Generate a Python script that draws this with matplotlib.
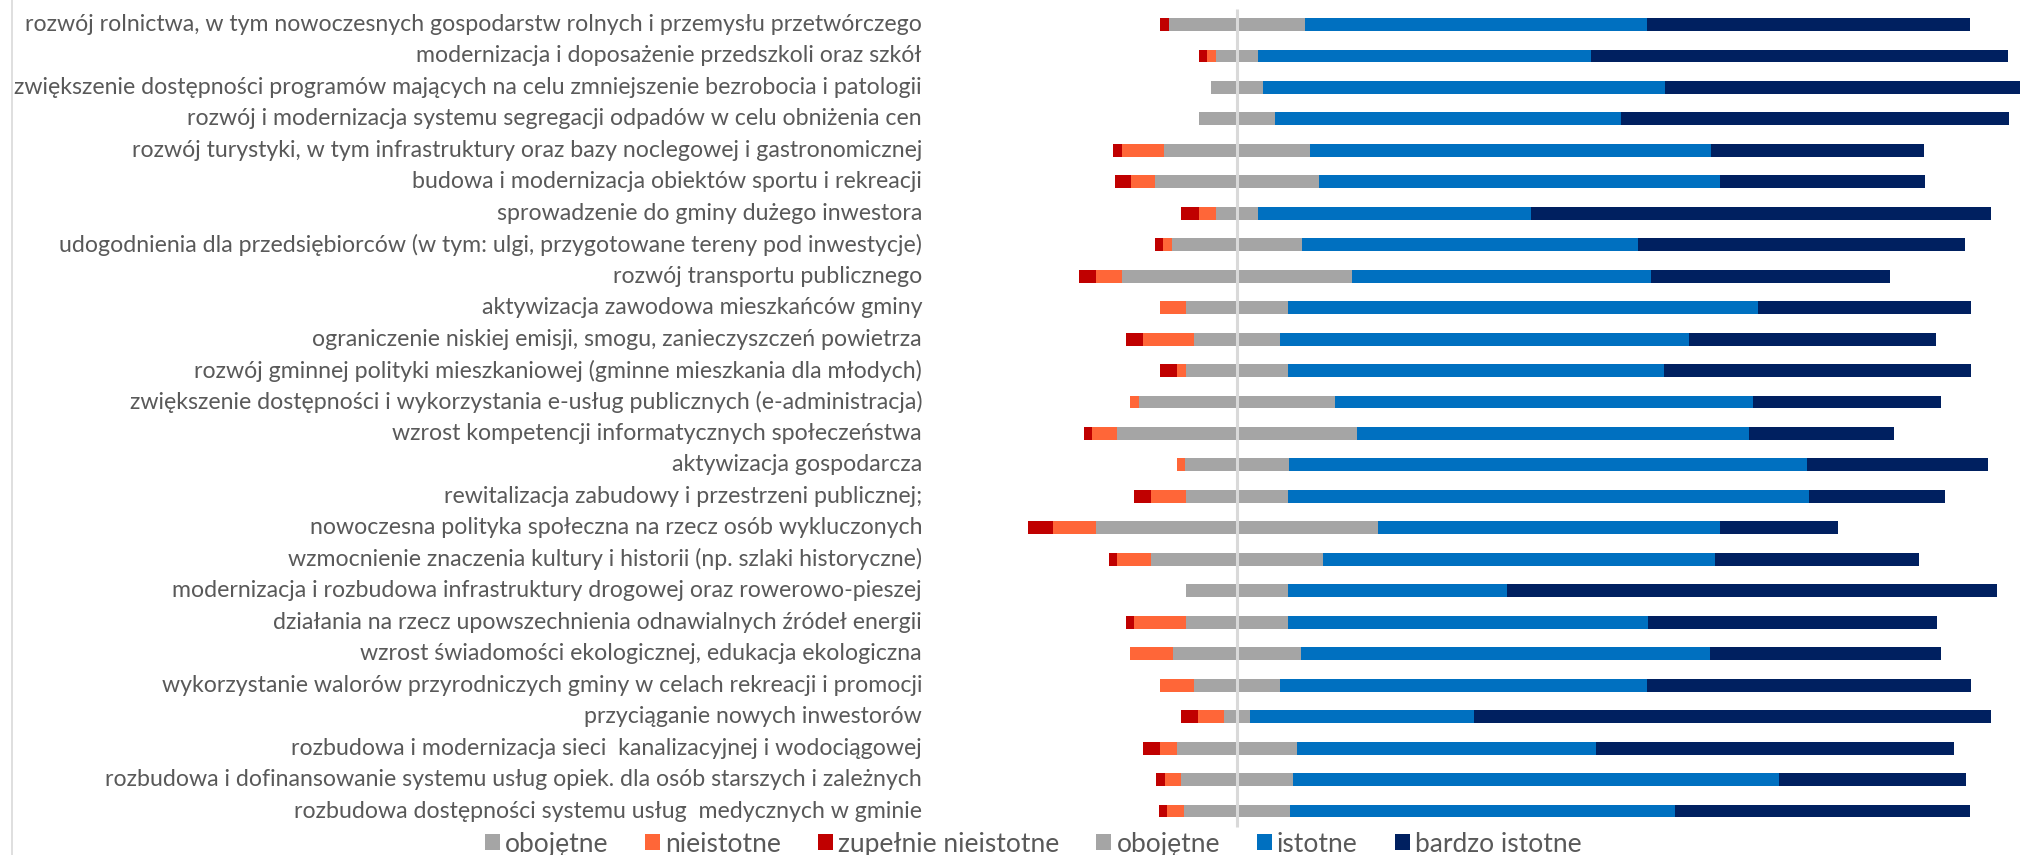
import matplotlib
matplotlib.use("Agg")
import matplotlib.pyplot as plt
from matplotlib.patches import Patch
from matplotlib.lines import Line2D
import numpy as np

categories = [
    "rozwój rolnictwa, w tym nowoczesnych gospodarstw rolnych i przemysłu przetwórczego",
    "modernizacja i doposażenie przedszkoli oraz szkół",
    "zwiększenie dostępności programów mających na celu zmniejszenie bezrobocia i patologii",
    "rozwój i modernizacja systemu segregacji odpadów w celu obniżenia cen",
    "rozwój turystyki, w tym infrastruktury oraz bazy noclegowej i gastronomicznej",
    "budowa i modernizacja obiektów sportu i rekreacji",
    "sprowadzenie do gminy dużego inwestora",
    "udogodnienia dla przedsiębiorców (w tym: ulgi, przygotowane tereny pod inwestycje)",
    "rozwój transportu publicznego",
    "aktywizacja zawodowa mieszkańców gminy",
    "ograniczenie niskiej emisji, smogu, zanieczyszczeń powietrza",
    "rozwój gminnej polityki mieszkaniowej (gminne mieszkania dla młodych)",
    "zwiększenie dostępności i wykorzystania e-usług publicznych (e-administracja)",
    "wzrost kompetencji informatycznych społeczeństwa",
    "aktywizacja gospodarcza",
    "rewitalizacja zabudowy i przestrzeni publicznej;",
    "nowoczesna polityka społeczna na rzecz osób wykluczonych",
    "wzmocnienie znaczenia kultury i historii (np. szlaki historyczne)",
    "modernizacja i rozbudowa infrastruktury drogowej oraz rowerowo-pieszej",
    "działania na rzecz upowszechnienia odnawialnych źródeł energii",
    "wzrost świadomości ekologicznej, edukacja ekologiczna",
    "wykorzystanie walorów przyrodniczych gminy w celach rekreacji i promocji",
    "przyciąganie nowych inwestorów",
    "rozbudowa i modernizacja sieci  kanalizacyjnej i wodociągowej",
    "rozbudowa i dofinansowanie systemu usług opiek. dla osób starszych i zależnych",
    "rozbudowa dostępności systemu usług  medycznych w gminie",
]

zupelnie_nieistotne = [1.1, 1.0, 0.0, 0.0, 1.1, 2.0, 2.1, 1.0, 2.1, 0.0, 2.1, 2.1, 0.0,
                       1.0, 0.0, 2.1, 3.1, 1.1, 0.0, 1.0, 0.0, 0.0, 2.1, 2.1, 1.1, 1.0]
nieistotne = [0.0, 1.1, 0.0, 0.0, 5.2, 3.0, 2.1, 1.1, 3.2, 3.1, 6.3, 1.0, 1.1,
              3.1, 1.0, 4.2, 5.3, 4.2, 0.0, 6.3, 5.3, 4.2, 3.2, 2.1, 2.0, 2.0]
obojetne = [16.9, 5.3, 6.5, 9.4, 17.9, 20.2, 5.3, 16.0, 28.4, 12.7, 10.6, 12.7, 24.2,
            29.5, 12.8, 12.7, 34.8, 21.1, 12.5, 12.7, 15.8, 10.6, 3.2, 14.8, 13.8, 13.2]
istotne = [42.1, 41.0, 49.5, 42.7, 49.5, 49.5, 33.6, 41.5, 36.9, 57.9, 50.5, 46.3, 51.6,
           48.4, 63.9, 64.2, 42.2, 48.4, 27.1, 44.3, 50.5, 45.3, 27.7, 36.9, 60.0, 47.5]
bardzo_istotne = [39.9, 51.5, 44.0, 47.9, 26.3, 25.3, 56.8, 40.3, 29.5, 26.3, 30.5, 37.9, 23.1,
                  17.9, 22.3, 16.8, 14.6, 25.2, 60.4, 35.7, 28.4, 39.9, 63.7, 44.2, 23.1, 36.3]

legend_labels = ["obojętne", "nieistotne", "zupełnie nieistotne", "obojętne", "istotne", "bardzo istotne"]

C_GRAY = "#A5A5A5"
C_ORANGE = "#FF6638"
C_RED = "#C00000"
C_BLUE = "#0070C0"
C_NAVY = "#002060"
TXT = "#595959"

W, H = 2020, 855
fig = plt.figure(figsize=(W / 100, H / 100), dpi=100)
plt.rcParams['font.family'] = ['Lato', 'DejaVu Sans']

# axes geometry in pixels
ax_left_px = 940
center_px = 1237.0
px_per_pct = 8.105
row0_px = 24.5
row_step = 31.46

ax = fig.add_axes([ax_left_px / W, 0, 1 - ax_left_px / W, 1])
ax.set_xlim((ax_left_px - center_px) / px_per_pct, (W - center_px) / px_per_pct)
ax.set_ylim((H - row0_px) / row_step, -row0_px / row_step)
ax.axis("off")

zup = np.array(zupelnie_nieistotne)
nie = np.array(nieistotne)
obo = np.array(obojetne)
ist = np.array(istotne)
bar = np.array(bardzo_istotne)
y = np.arange(len(categories))
h = 0.41

start = -(zup + nie + obo / 2)
ax.barh(y, zup, left=start, height=h, color=C_RED, zorder=2)
ax.barh(y, nie, left=start + zup, height=h, color=C_ORANGE, zorder=2)
ax.barh(y, obo, left=start + zup + nie, height=h, color=C_GRAY, zorder=2)
ax.barh(y, ist, left=obo / 2, height=h, color=C_BLUE, zorder=2)
ax.barh(y, bar, left=obo / 2 + ist, height=h, color=C_NAVY, zorder=2)

# center line
ax.plot([0, 0], [(9 - row0_px) / row_step, (827 - row0_px) / row_step],
        color="#D9D9D9", lw=2.2, zorder=3, solid_capstyle="butt")

# labels: fit font size so the longest label spans the measured width
renderer = fig.canvas.get_renderer()
probe = fig.text(0, 0, categories[2], fontsize=10)
wpx = probe.get_window_extent(renderer).width
probe.remove()
label_fs = 10 * 909.0 / wpx

label_right_px = 922
for i, lab in enumerate(categories):
    ypx = row0_px + row_step * i
    fig.text(label_right_px / W, 1 - ypx / H, lab, ha="right", va="center",
             fontsize=label_fs, color=TXT)

# legend
probe = fig.text(0, 0, "obojętne", fontsize=10)
wpx = probe.get_window_extent(renderer).width
probe.remove()
leg_fs = 10 * 104.0 / wpx
fs_px = leg_fs * 100 / 72.0
handles = [Patch(facecolor=c, edgecolor="none") for c in
           [C_GRAY, C_ORANGE, C_RED, C_GRAY, C_BLUE, C_NAVY]]
leg = fig.legend(handles, legend_labels, loc="center",
                 bbox_to_anchor=(1033 / W, 1 - 844 / H), ncol=6, frameon=False,
                 fontsize=leg_fs, handlelength=15 / fs_px, handleheight=15 / fs_px,
                 handletextpad=5 / fs_px, columnspacing=37 / fs_px,
                 borderpad=0, borderaxespad=0)
for t in leg.get_texts():
    t.set_color(TXT)

# left border line of the chart area
fig.add_artist(Line2D([12 / W, 12 / W], [0, 1], color="#D9D9D9", lw=1.2))

fig.savefig("out.png", dpi=100)
